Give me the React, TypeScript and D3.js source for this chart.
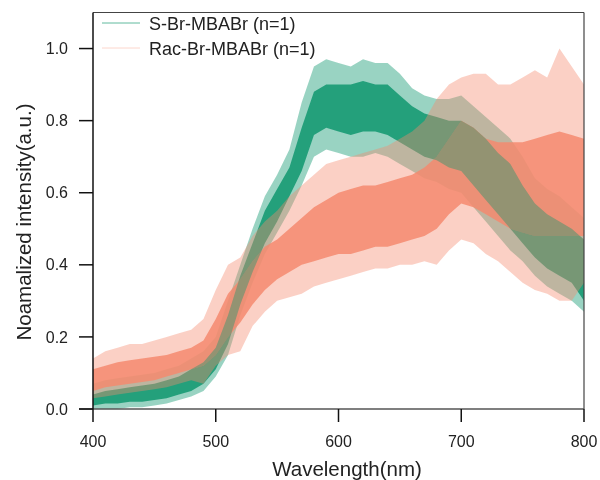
import React from "react";
import * as d3 from "d3";

// Wavelength grid (nm), sampled every 10 nm from the picture
const wavelengths = [
  400, 410, 420, 430, 440, 450, 460, 470, 480, 490, 500, 510, 520, 530, 540, 550, 560, 570, 580, 590,
  600, 610, 620, 630, 640, 650, 660, 670, 680, 690, 700, 710, 720, 730, 740, 750, 760, 770, 780, 790, 800,
];

// S-Br-MBABr: dense core of the noisy trace (low / high)
const sCoreLo = [
  0.01, 0.015, 0.015, 0.02, 0.02, 0.025, 0.03, 0.04, 0.05, 0.07, 0.11, 0.18, 0.29, 0.38, 0.46, 0.52, 0.59, 0.66, 0.76, 0.78,
  0.77, 0.76, 0.77, 0.77, 0.76, 0.74, 0.72, 0.7, 0.69, 0.67, 0.66, 0.62, 0.58, 0.54, 0.5, 0.46, 0.42, 0.39, 0.37, 0.35, 0.3,
];
const sCoreHi = [
  0.04, 0.05, 0.055, 0.06, 0.065, 0.07, 0.08, 0.09, 0.11, 0.13, 0.17, 0.26, 0.37, 0.46, 0.55, 0.61, 0.67, 0.78, 0.88, 0.9,
  0.9, 0.9, 0.91, 0.9, 0.9, 0.87, 0.84, 0.82, 0.81, 0.8, 0.8, 0.78, 0.75, 0.71, 0.68, 0.62, 0.57, 0.54, 0.52, 0.5, 0.47,
];
// S-Br-MBABr: extent of the spikes (low / high)
const sSpikeLo = [
  0.0, 0.0, 0.0, 0.005, 0.005, 0.01, 0.015, 0.025, 0.035, 0.05, 0.09, 0.15, 0.26, 0.35, 0.43, 0.49, 0.55, 0.62, 0.7, 0.72,
  0.71, 0.7, 0.7, 0.71, 0.7, 0.68, 0.66, 0.64, 0.63, 0.61, 0.6, 0.56, 0.52, 0.48, 0.44, 0.41, 0.37, 0.34, 0.32, 0.3, 0.27,
];
const sSpikeHi = [
  0.07, 0.08, 0.085, 0.09, 0.095, 0.1, 0.11, 0.12, 0.14, 0.16, 0.2, 0.3, 0.4, 0.5, 0.59, 0.65, 0.72, 0.85, 0.95, 0.97,
  0.96, 0.95, 0.97, 0.96, 0.96, 0.93, 0.89, 0.87, 0.86, 0.86, 0.87, 0.84, 0.81, 0.78, 0.75, 0.7, 0.64, 0.61, 0.59, 0.56, 0.53,
];

// Rac-Br-MBABr: dense core (low / high)
const rCoreLo = [
  0.05, 0.06, 0.065, 0.07, 0.075, 0.08, 0.09, 0.1, 0.11, 0.12, 0.15, 0.2, 0.24, 0.29, 0.33, 0.36, 0.38, 0.4, 0.41, 0.42,
  0.43, 0.43, 0.44, 0.45, 0.45, 0.46, 0.47, 0.48, 0.5, 0.54, 0.57, 0.56, 0.54, 0.52, 0.5, 0.49, 0.48, 0.48, 0.48, 0.48, 0.48,
];
const rCoreHi = [
  0.11, 0.12, 0.13, 0.135, 0.14, 0.145, 0.15, 0.16, 0.17, 0.19, 0.25, 0.32, 0.36, 0.41, 0.45, 0.47, 0.5, 0.53, 0.56, 0.58,
  0.6, 0.61, 0.62, 0.62, 0.63, 0.64, 0.65, 0.67, 0.7, 0.75, 0.8, 0.78, 0.75, 0.74, 0.74, 0.74, 0.75, 0.76, 0.77, 0.76, 0.75,
];
// Rac-Br-MBABr: extent of the spikes (low / high)
const rSpikeLo = [
  0.03, 0.035, 0.04, 0.045, 0.05, 0.055, 0.06, 0.07, 0.08, 0.07, 0.12, 0.15, 0.16, 0.23, 0.27, 0.3, 0.31, 0.32, 0.34, 0.35,
  0.36, 0.37, 0.38, 0.39, 0.39, 0.4, 0.4, 0.41, 0.4, 0.44, 0.47, 0.46, 0.43, 0.41, 0.38, 0.35, 0.33, 0.32, 0.3, 0.3, 0.35,
];
const rSpikeHi = [
  0.14, 0.16, 0.17, 0.18, 0.18, 0.19, 0.2, 0.21, 0.22, 0.25, 0.33, 0.4, 0.42, 0.48, 0.52, 0.55, 0.59, 0.62, 0.65, 0.68,
  0.69, 0.7, 0.71, 0.72, 0.73, 0.75, 0.77, 0.8, 0.86, 0.9, 0.92, 0.93, 0.93, 0.9, 0.9, 0.92, 0.94, 0.92, 1.0, 0.95, 0.9,
];

const xTicks = [400, 500, 600, 700, 800];
const yTicks = [0, 0.2, 0.4, 0.6, 0.8, 1.0];
const seriesNames = ["S-Br-MBABr (n=1)", "Rac-Br-MBABr (n=1)"];

const GREEN = "#1d9d77";
const SALMON = "#f48a6e";
const FONT = "'Liberation Sans', Arial, sans-serif";

export default function App() {
  const W = 600;
  const H = 480;
  const left = 93;
  const right = 584;
  const bottom = 409;
  const top = 12.5;

  const x = d3.scaleLinear().domain([400, 800]).range([left, right]);
  const y = d3.scaleLinear().domain([0, 1.1]).range([bottom, top]);

  const band = (lo: number[], hi: number[]) =>
    d3
      .area<number>()
      .x((d) => x(d))
      .y0((_, i) => y(lo[i]))
      .y1((_, i) => y(hi[i]))
      .curve(d3.curveLinear)(wavelengths) as string;

  const sCore = band(sCoreLo, sCoreHi);
  const rCore = band(rCoreLo, rCoreHi);

  return (
    <svg
      width={W}
      height={H}
      style={{ position: "absolute", left: 0, top: 0, background: "#fff" }}
      fontFamily={FONT}
    >
      <defs>
        <clipPath id="plotClip">
          <rect x={left} y={top} width={right - left} height={bottom - top} />
        </clipPath>
        <clipPath id="rCoreClip">
          <path d={rCore} />
        </clipPath>
      </defs>

      <g clipPath="url(#plotClip)" style={{ isolation: "isolate" }}>
        <path d={band(sSpikeLo, sSpikeHi)} fill={GREEN} opacity={0.45} />
        <path d={sCore} fill={GREEN} opacity={0.95} />
        <path d={band(rSpikeLo, rSpikeHi)} fill={SALMON} opacity={0.4} />
        <path d={rCore} fill={SALMON} opacity={0.85} />
        {/* overlap of both traces reads brown in the reference */}
        <g clipPath="url(#rCoreClip)">
          <path d={sCore} fill={GREEN} opacity={0.4} style={{ mixBlendMode: "multiply" }} />
        </g>
      </g>

      {/* frame */}
      <line x1={left} x2={right} y1={top} y2={top} stroke="#444" strokeWidth={1.2} />
      <line x1={right} x2={right} y1={top} y2={bottom} stroke="#444" strokeWidth={1.2} />
      <line x1={left - 14} x2={right} y1={bottom} y2={bottom} stroke="#555" strokeWidth={1.5} />
      <line x1={left} x2={left} y1={top} y2={bottom} stroke="#111" strokeWidth={1.5} />

      {/* y axis */}
      {yTicks.map((t) => (
        <g key={"y" + t}>
          <line x1={left - 14} x2={left} y1={y(t)} y2={y(t)} stroke="#111" strokeWidth={1.5} />
          <text x={68} y={y(t)} dy="0.35em" textAnchor="end" fontSize={16} fill="#222">
            {t.toFixed(1)}
          </text>
        </g>
      ))}

      {/* x axis */}
      {xTicks.map((t) => (
        <g key={"x" + t}>
          <line x1={x(t)} x2={x(t)} y1={bottom} y2={bottom + 13} stroke="#111" strokeWidth={1.5} />
          <text x={x(t)} y={446.5} textAnchor="middle" fontSize={16} fill="#222">
            {t}
          </text>
        </g>
      ))}

      <text x={347} y={476} textAnchor="middle" fontSize={20.5} fill="#222">
        Wavelength(nm)
      </text>
      <text
        transform={`translate(31,222) rotate(-90)`}
        textAnchor="middle"
        fontSize={20.5}
        fill="#222"
      >
        Noamalized intensity(a.u.)
      </text>

      {/* legend */}
      <line x1={102} x2={140} y1={23} y2={23} stroke={GREEN} strokeWidth={1} opacity={0.7} />
      <text x={149} y={29.5} fontSize={18} fill="#222">
        {seriesNames[0]}
      </text>
      <line x1={102} x2={140} y1={48} y2={48} stroke={SALMON} strokeWidth={1} opacity={0.35} />
      <text x={149} y={54.5} fontSize={18} fill="#222">
        {seriesNames[1]}
      </text>
    </svg>
  );
}
